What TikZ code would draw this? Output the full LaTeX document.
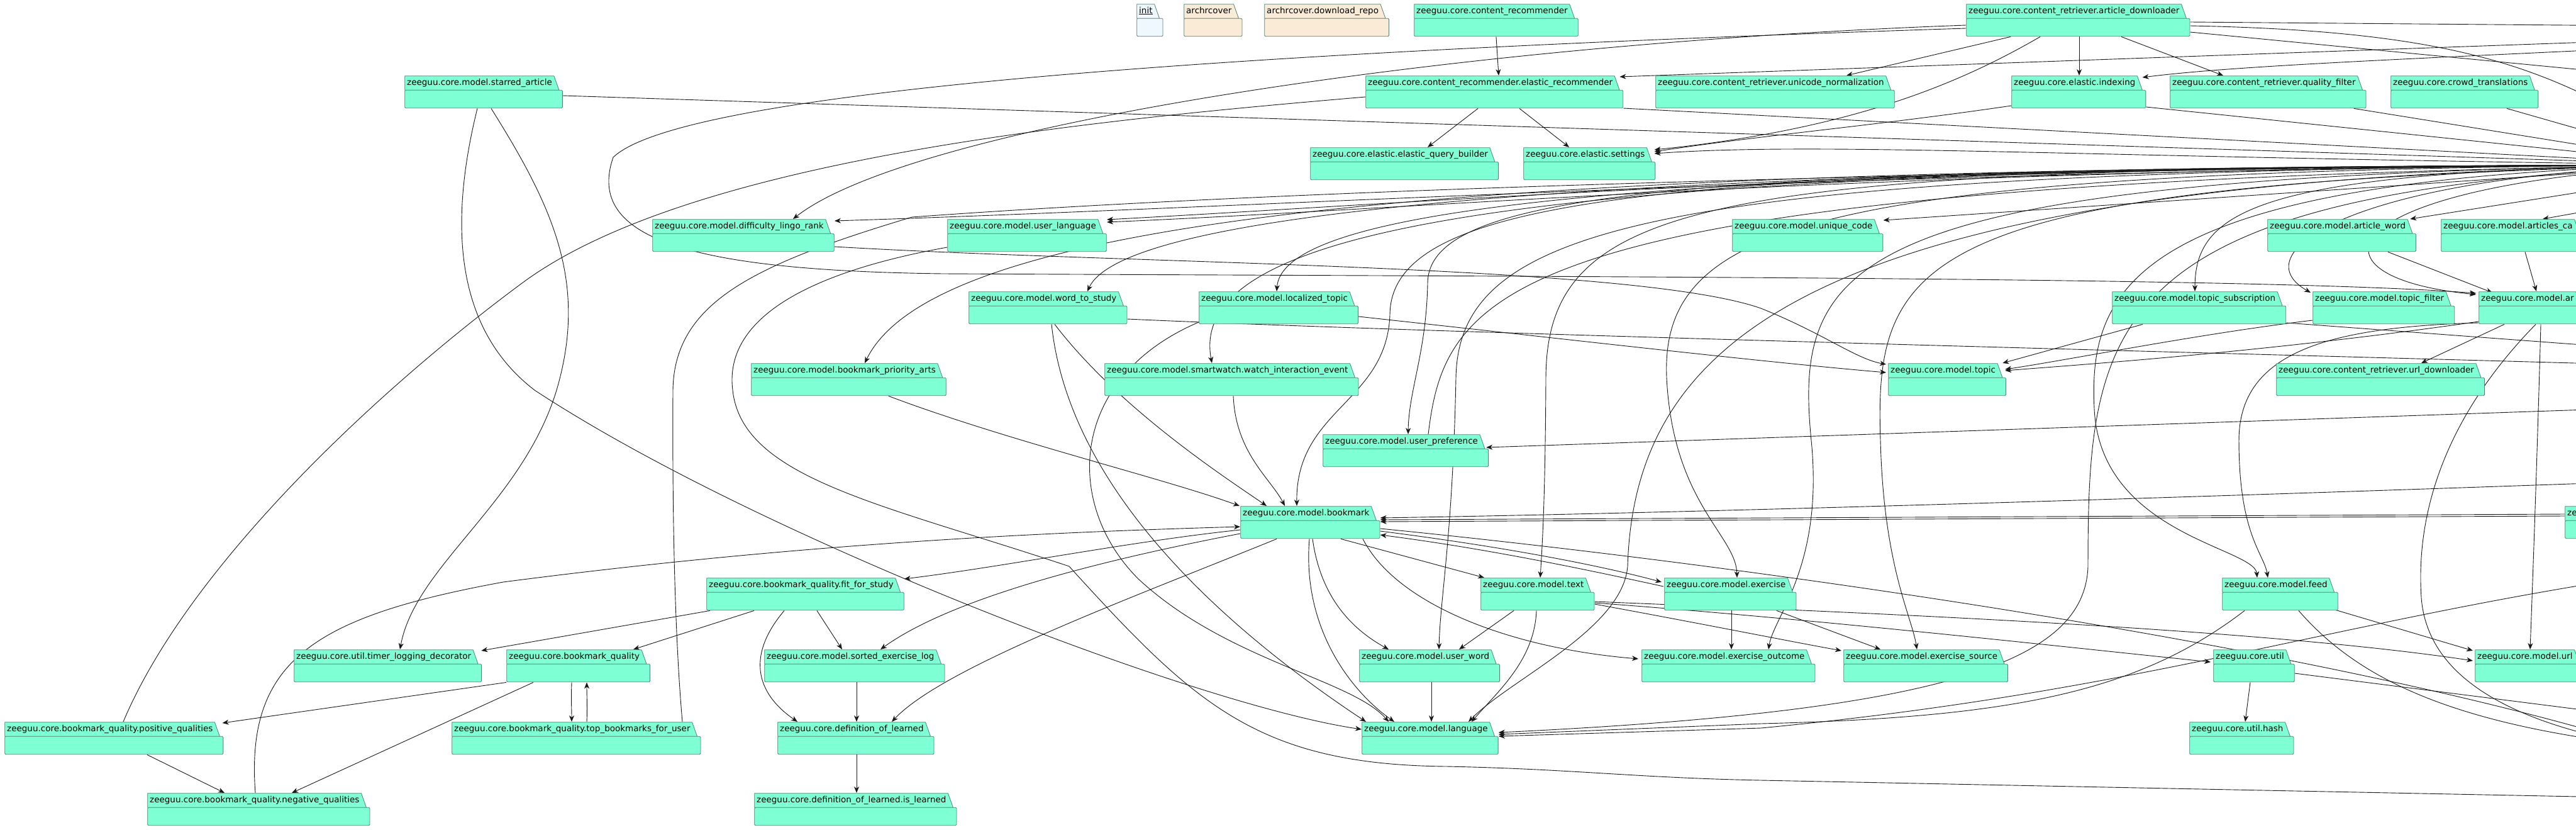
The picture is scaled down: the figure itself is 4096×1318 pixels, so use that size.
\documentclass[tikz,border=0pt]{standalone}
\usepackage{fontspec}
\newfontfamily\pkgfont{DejaVu Sans}
\usetikzlibrary{arrows.meta}
\definecolor{pkgteal}{RGB}{127,255,212}
\definecolor{pkgline}{RGB}{84,128,116}
\definecolor{pkgblue}{RGB}{240,248,255}
\definecolor{pkgsand}{RGB}{250,235,215}
\definecolor{edgecol}{RGB}{24,24,24}
\pgfdeclarelayer{paper}
\pgfdeclarelayer{edges}
\pgfsetlayers{paper,edges,main}

\begin{document}
\begin{tikzpicture}[x=1pt, y=-1pt,
  pkg/.style={anchor=north west, inner xsep=4pt, inner ysep=0pt, text height=15pt, text depth=37pt,
    font=\pkgfont\fontsize{13.5pt}{15pt}\selectfont, execute at end node={\hspace{13pt}},
    path picture={
      \filldraw[fill=#1, draw=pkgline, line width=0.8pt]
        ([shift={(0.5pt,-0.5pt)}]path picture bounding box.north west) -- ([shift={(-14pt,-0.5pt)}]path picture bounding box.north east)
        -- ([shift={(-6pt,-23pt)}]path picture bounding box.north east) -- ([shift={(0.5pt,-23pt)}]path picture bounding box.north west) -- cycle;
      \filldraw[fill=#1, draw=pkgline, line width=0.8pt, rounded corners=1.5pt]
        ([shift={(0.5pt,-23pt)}]path picture bounding box.north west) rectangle ([shift={(-0.5pt,0.5pt)}]path picture bounding box.south east);
    }},
  pkg/.default=pkgteal,
  arr/.style={-{Stealth[length=10pt, width=8pt, inset=3pt]}, line width=0.9pt, draw=edgecol},
  link/.style={line width=0.9pt, draw=edgecol}
]
\useasboundingbox (0,0) rectangle (4096,1318);
\begin{pgfonlayer}{paper}
\fill[white] (0,0) rectangle (4096,1318);
\end{pgfonlayer}
\clip (0,0) rectangle (4096,1318);

% packages, row by row
\node[pkg=pkgblue] (init) at (1807,6) {\underline{init}};
\node[pkg=pkgsand] (arc) at (1882,6) {archrcover};
\node[pkg=pkgsand] (arcdl) at (2010,6) {archrcover.download\_repo};
\node[pkg] (crec) at (2248,6) {zeeguu.core.content\_recommender};
\node[pkg] (adl) at (3126,6) {zeeguu.core.content\_retriever.article\_downloader};

\node[pkg] (star) at (643,120) {zeeguu.core.model.starred\_article};
\node[pkg] (erec) at (2171,120) {zeeguu.core.content\_recommender.elastic\_recommender};
\node[pkg] (uni) at (2632,120) {zeeguu.core.content\_retriever.unicode\_normalization};
\node[pkg] (idx) at (3198,120) {zeeguu.core.elastic.indexing};
\node[pkg] (qf) at (3450,120) {zeeguu.core.content\_retriever.quality\_filter};
\node[pkg] (crowd) at (3801,120) {zeeguu.core.crowd\_translations};

\node[pkg] (eqb) at (2083,234) {zeeguu.core.elastic.elastic\_query\_builder};
\node[pkg] (eset) at (2422,234) {zeeguu.core.elastic.settings};

\node[pkg] (dlr) at (1037,348) {zeeguu.core.model.difficulty\_lingo\_rank};
\node[pkg] (ulang) at (1506,348) {zeeguu.core.model.user\_language};
\node[pkg] (ucode) at (2754,348) {zeeguu.core.model.unique\_code};
\node[pkg] (aword) at (3605,348) {zeeguu.core.model.article\_word};
\node[pkg] (acache) at (3881,348) {zeeguu.core.model.articles\_ca};

\node[pkg] (wts) at (1540,463) {zeeguu.core.model.word\_to\_study};
\node[pkg] (ltopic) at (1906,463) {zeeguu.core.model.localized\_topic};
\node[pkg] (tsub) at (3358,463) {zeeguu.core.model.topic\_subscription};
\node[pkg] (tfil) at (3677,463) {zeeguu.core.model.topic\_filter};
\node[pkg] (art) at (3941,463) {zeeguu.core.model.ar};

\node[pkg] (bpa) at (1194,577) {zeeguu.core.model.bookmark\_priority\_arts};
\node[pkg] (swatch) at (1756,577) {zeeguu.core.model.smartwatch.watch\_interaction\_event};
\node[pkg] (topic) at (3002,577) {zeeguu.core.model.topic};
\node[pkg] (urld) at (3619,577) {zeeguu.core.content\_retriever.url\_downloader};

\node[pkg] (upref) at (2103,690) {zeeguu.core.model.user\_preference};

\node[pkg] (bm) at (1972,804) {zeeguu.core.model.bookmark};
\node[pkg] (zeo) at (4078,804) {ze};

\node[pkg] (ffs) at (1123,918) {zeeguu.core.bookmark\_quality.fit\_for\_study};
\node[pkg] (text) at (2354,918) {zeeguu.core.model.text};
\node[pkg] (exer) at (2646,918) {zeeguu.core.model.exercise};
\node[pkg] (feed) at (3533,918) {zeeguu.core.model.feed};

\node[pkg] (tld) at (467,1032) {zeeguu.core.util.timer\_logging\_decorator};
\node[pkg] (bq) at (805,1032) {zeeguu.core.bookmark\_quality};
\node[pkg] (sel) at (1215,1032) {zeeguu.core.model.sorted\_exercise\_log};
\node[pkg] (uword) at (2161,1032) {zeeguu.core.model.user\_word};
\node[pkg] (eout) at (2610,1032) {zeeguu.core.model.exercise\_outcome};
\node[pkg] (esrc) at (2931,1032) {zeeguu.core.model.exercise\_source};
\node[pkg] (util) at (3519,1032) {zeeguu.core.util};
\node[pkg] (url) at (3935,1032) {zeeguu.core.model.url};

\node[pkg] (posq) at (7,1147) {zeeguu.core.bookmark\_quality.positive\_qualities};
\node[pkg] (topb) at (718,1147) {zeeguu.core.bookmark\_quality.top\_bookmarks\_for\_user};
\node[pkg] (dol) at (1236,1147) {zeeguu.core.definition\_of\_learned};
\node[pkg] (lang) at (2165,1147) {zeeguu.core.model.language};
\node[pkg] (hash) at (3481,1147) {zeeguu.core.util.hash};

\node[pkg] (negq) at (234,1260) {zeeguu.core.bookmark\_quality.negative\_qualities};
\node[pkg] (isl) at (1199,1260) {zeeguu.core.definition\_of\_learned.is\_learned};

% free ends beyond the right border
\coordinate (hub) at (4300,262);
\coordinate (offin1) at (4200,64);
\coordinate (offin2) at (4200,76);
\coordinate (offin3) at (4200,290);
\coordinate (offin4) at (4200,320);
\coordinate (offin5) at (4200,648);
\coordinate (offin6) at (4200,765);
\coordinate (offin7) at (4200,915);
\coordinate (offout1) at (4200,41);
\coordinate (offout2) at (4200,120);
\coordinate (offout3) at (4200,555);
\coordinate (offout4) at (4200,580);
\coordinate (offout5) at (4200,1140);
\coordinate (offout6) at (4200,1185);
\coordinate (offout7) at (4200,1268);

\begin{pgfonlayer}{edges}
\clip (0,0) rectangle (4096,1318);
% top rows
\draw[arr] (crec.south) -- ([xshift=212pt]erec.north west);
\draw[arr] ([xshift=179pt]erec.south west) -- ([xshift=187pt]eqb.north west);
\draw[arr] ([xshift=245pt]erec.south west) -- ([xshift=73pt]eset.north west);
\draw[arr] (offin1) -- ([shift={(-6pt,-2pt)}]erec.north east);
\draw[arr] ([xshift=71pt]adl.south west) -- ([xshift=304pt]uni.north west);
\draw[arr] ([xshift=180pt]adl.south west) -- ([xshift=108pt]idx.north west);
\draw[arr] ([xshift=247pt]adl.south west) -- ([xshift=85pt]qf.north west);
\draw[arr] (offin2) .. controls (3800,95) and (3550,105) .. ([shift={(-6pt,-3pt)}]idx.north east);
\draw[arr] ([xshift=118pt]adl.south west) .. controls (3120,130) and (2950,205) .. ([shift={(-2pt,-4pt)}]eset.north east);
\draw[arr] ([yshift=-48pt]idx.north west) .. controls (2980,200) and (2800,215) .. ([shift={(-2pt,-7pt)}]eset.north east);
\draw[arr] (hub) .. controls (3300,250) and (2900,225) .. ([shift={(-2pt,-10pt)}]eset.north east);
\draw[link] ([yshift=-29pt]adl.north east) -- (offout1);
\draw[link] ([yshift=-45pt]adl.north east) -- (offout2);
\draw[link] ([yshift=-35pt]adl.north east) .. controls (3950,50) and (4080,120) .. (hub);
\draw[link] ([yshift=-32pt]star.north east) -- (hub);
\draw[arr] ([xshift=116pt]star.south west) .. controls (715,350) and (720,520) .. (850,620) .. controls (1200,850) and (1900,1120) .. ([yshift=-12pt]lang.north west);
\draw[arr] ([xshift=138pt]star.south west) .. controls (880,330) and (935,450) .. (885,620) .. controls (830,800) and (660,900) .. ([xshift=169pt]tld.north west);
\draw[arr] ([yshift=-34pt]adl.north west) .. controls (2300,70) and (1450,200) .. ([xshift=224pt]dlr.north west);
\draw[arr] ([yshift=-39pt]adl.north west) .. controls (2200,75) and (1100,130) .. (975,250) .. controls (930,380) and (1100,430) .. (1500,435) .. controls (2500,440) and (3600,440) .. ([shift={(-4pt,-3pt)}]art.north west);
\draw[link] ([yshift=-52pt]erec.north east) -- (hub);
\draw[link] ([yshift=-34pt]erec.north west) .. controls (1750,190) and (1100,250) .. (830,450) .. controls (600,620) and (300,900) .. ([xshift=189pt]posq.north west);
\draw[link] ([xshift=-20pt]qf.south east) -- (hub);
\draw[link] ([yshift=-50pt]idx.north east) -- (hub);
\draw[link] ([xshift=185pt]crowd.south west) -- (hub);
% from the model package on the right
\draw[arr] (hub) .. controls (3000,268) and (2000,330) .. ([yshift=-3pt]dlr.north east);
\draw[arr] (hub) .. controls (3000,262) and (2300,320) .. ([yshift=-1pt]ulang.north east);
\draw[arr] (hub) .. controls (3000,266) and (2300,330) .. ([yshift=-5pt]ulang.north east);
\draw[arr] (hub) -- ([yshift=-2pt]ucode.north east);
\draw[arr] (hub) .. controls (2600,265) and (1790,330) .. ([xshift=189pt]wts.north west);
\draw[arr] (hub) .. controls (2700,265) and (2040,320) .. ([xshift=124pt]ltopic.north west);
\draw[arr] (hub) .. controls (2500,265) and (1500,320) .. ([xshift=181pt]bpa.north west);
\draw[arr] (hub) .. controls (2600,265) and (1880,330) .. ([xshift=171pt]swatch.north west);
\draw[arr] (hub) .. controls (2700,265) and (2212,300) .. (2210,500) .. controls (2205,640) and (2060,650) .. ([xshift=90pt]bm.north west);
\draw[arr] (hub) .. controls (2700,265) and (2272,300) .. (2270,450) .. controls (2268,560) and (2240,620) .. ([xshift=136pt]upref.north west);
\draw[link] ([xshift=168pt]upref.north west) .. controls (2300,450) and (2400,290) .. (hub);
\draw[arr] (offin5) -- ([shift={(-4pt,-21pt)}]upref.north east);
\draw[arr] (hub) .. controls (2750,265) and (2460,300) .. (2458,600) .. controls (2457,800) and (2452,870) .. ([xshift=95pt]text.north west);
\draw[arr] (hub) .. controls (2900,270) and (2640,350) .. (2650,600) .. controls (2660,800) and (2760,850) .. ([xshift=116pt]exer.north west);
\draw[arr] (hub) .. controls (2650,270) and (2320,350) .. (2315,600) .. controls (2310,850) and (2290,950) .. ([xshift=127pt]uword.north west);
\draw[arr] (hub) .. controls (2950,280) and (2850,400) .. (2880,700) .. controls (2900,900) and (2820,980) .. ([xshift=202pt]eout.north west);
\draw[arr] (hub) .. controls (3050,290) and (2980,400) .. (2990,700) .. controls (2995,900) and (3040,980) .. ([xshift=117pt]esrc.north west);
\draw[arr] (hub) .. controls (3600,270) and (3490,330) .. ([xshift=132pt]tsub.north west);
\draw[arr] (hub) .. controls (3750,275) and (3560,400) .. ([shift={(-3pt,-2pt)}]tfil.north west);
\draw[arr] (hub) .. controls (3700,290) and (3650,440) .. ([shift={(-4pt,-5pt)}]art.north west);
\draw[arr] (hub) .. controls (3400,280) and (3320,450) .. (3330,650) .. controls (3340,850) and (3585,870) .. ([xshift=56pt]feed.north west);
\draw[arr] (hub) .. controls (2950,280) and (2600,500) .. (2588,900) .. controls (2580,1000) and (2400,1080) .. ([xshift=170pt]lang.north west);
\draw[arr] (hub) .. controls (3350,300) and (3320,500) .. (3320,900) .. controls (3315,1050) and (3100,1130) .. ([yshift=-17pt]lang.north east);
\draw[link] ([xshift=367pt]topb.north west) .. controls (1072,1000) and (1069,800) .. (1070,620) .. controls (1072,480) and (1200,420) .. (1450,345) .. controls (2200,290) and (3500,265) .. (hub);
% middle rows
\draw[arr] ([yshift=-44pt]dlr.north east) .. controls (1800,420) and (2600,420) .. (2800,490) .. controls (2900,530) and (2950,570) .. ([shift={(-3pt,-2pt)}]topic.north west);
\draw[link] ([yshift=-44pt]wts.north east) .. controls (2300,530) and (3500,560) .. (offout4);
\draw[arr] ([yshift=-40pt]ltopic.north east) .. controls (2500,540) and (2800,575) .. ([shift={(-3pt,-15pt)}]topic.north west);
\draw[arr] ([xshift=137pt]wts.south west) .. controls (1780,650) and (1950,760) .. ([xshift=42pt]bm.north west);
\draw[arr] ([xshift=132pt]wts.south west) .. controls (1700,780) and (1950,1000) .. ([xshift=7pt]lang.north west);
\draw[arr] ([yshift=-49pt]ltopic.north west) .. controls (1700,600) and (1690,800) .. (1810,920) .. controls (1950,1050) and (2150,1080) .. ([xshift=43pt]lang.north west);
\draw[arr] ([xshift=219pt]bpa.south west) .. controls (1600,700) and (1850,760) .. ([xshift=-1pt]bm.north west);
\draw[arr] ([xshift=205pt]swatch.south west) .. controls (1965,720) and (2020,760) .. ([xshift=71pt]bm.north west);
\draw[arr] ([xshift=172pt]negq.north west) .. controls (390,1050) and (500,980) .. (800,925) .. controls (1300,860) and (1700,845) .. ([yshift=-33pt]bm.north west);
\draw[link] ([yshift=-45pt]ulang.north west) .. controls (1300,430) and (1150,500) .. (1165,620) .. controls (1180,760) and (1400,800) .. (1700,900) .. controls (1900,1120) and (2000,1215) .. (2300,1218) .. controls (2500,1222) and (2600,1236) .. (2800,1240) -- (offout7);
% bookmark
\draw[arr] ([yshift=-38pt]bm.north west) .. controls (1800,860) and (1600,900) .. ([yshift=-2pt]ffs.north east);
\draw[arr] ([yshift=-44pt]bm.north west) .. controls (1700,900) and (1500,960) .. ([xshift=185pt]sel.north west);
\draw[arr] ([xshift=58pt]bm.south west) .. controls (1800,950) and (1500,1060) .. ([xshift=182pt]dol.north west);
\draw[arr] ([xshift=160pt]bm.south west) -- ([xshift=6pt]text.north west);
\draw[arr] ([yshift=-40pt]bm.north east) .. controls (2400,870) and (2550,900) .. ([shift={(-4pt,-7pt)}]exer.north west);
\draw[arr] ([shift={(-1pt,-14pt)}]exer.north west) .. controls (2500,900) and (2350,870) .. ([yshift=-46pt]bm.north east);
\draw[arr] ([xshift=115pt]bm.south west) .. controls (2100,950) and (2150,1000) .. ([xshift=47pt]uword.north west);
\draw[arr] ([xshift=110pt]bm.south west) .. controls (2070,1000) and (2150,1100) .. ([xshift=52pt]lang.north west);
\draw[arr] ([xshift=195pt]bm.south west) .. controls (2220,960) and (2400,1030) .. ([shift={(-5pt,-15pt)}]eout.north west);
\draw[link] ([yshift=-36pt]bm.north east) .. controls (2800,900) and (3700,1030) .. (offout6);
\draw[arr] ([yshift=-13pt]zeo.north west) -- ([yshift=-22pt]bm.north east);
\draw[arr] ([yshift=-16pt]zeo.north west) -- ([yshift=-25pt]bm.north east);
\draw[arr] (offin6) .. controls (3500,790) and (2700,815) .. ([yshift=-19pt]bm.north east);
% bookmark quality
\draw[arr] ([xshift=6pt]ffs.south west) -- ([shift={(-1pt,-2pt)}]tld.north east);
\draw[arr] ([xshift=76pt]ffs.south west) -- ([xshift=202pt]bq.north west);
\draw[arr] ([xshift=176pt]ffs.south west) -- ([xshift=124pt]sel.north west);
\draw[arr] ([xshift=124pt]ffs.south west) .. controls (1188,1040) and (1200,1100) .. ([xshift=32pt]dol.north west);
\draw[arr] (bq.south west) -- ([shift={(-2pt,-2pt)}]posq.north east);
\draw[arr] ([xshift=43pt]bq.south west) -- ([xshift=230pt]negq.north west);
\draw[arr] ([xshift=104pt]bq.south west) .. controls (908,1110) and (909,1130) .. ([xshift=191pt]topb.north west);
\draw[arr] ([xshift=215pt]topb.north west) .. controls (934,1125) and (933,1105) .. ([xshift=128pt]bq.south west);
\draw[arr] ([xshift=227pt]posq.south west) -- ([xshift=123pt]negq.north west);
\draw[arr] ([xshift=147pt]sel.south west) -- ([xshift=126pt]dol.north west);
\draw[arr] ([xshift=126pt]dol.south west) -- ([xshift=163pt]isl.north west);
% text, exercise, feed, util
\draw[arr] ([yshift=-42pt]text.north east) .. controls (2700,990) and (2850,1020) .. ([shift={(-3pt,-2pt)}]esrc.north west);
\draw[arr] ([yshift=-40pt]text.north east) .. controls (2900,985) and (3300,1030) .. ([shift={(-4pt,-20pt)}]util.north west);
\draw[arr] ([yshift=-38pt]text.north east) .. controls (3000,975) and (3600,1000) .. ([shift={(-3pt,-18pt)}]url.north west);
\draw[arr] ([xshift=53pt]text.south west) -- ([xshift=159pt]uword.north west);
\draw[arr] ([xshift=89pt]text.south west) .. controls (2440,1050) and (2380,1100) .. ([xshift=175pt]lang.north west);
\draw[arr] ([xshift=179pt]exer.south west) -- ([xshift=59pt]esrc.north west);
\draw[arr] ([xshift=107pt]exer.south west) -- ([xshift=143pt]eout.north west);
\draw[arr] ([xshift=36pt]feed.south west) .. controls (3400,1100) and (3200,1140) .. (2800,1150) -- ([yshift=-20pt]lang.north east);
\draw[arr] (offin7) .. controls (3700,990) and (3400,1100) .. (2800,1157) -- ([yshift=-23pt]lang.north east);
\draw[arr] ([shift={(-4pt,1pt)}]feed.south east) -- ([shift={(-3pt,-2pt)}]url.north west);
\draw[link] ([xshift=122pt]feed.south west) .. controls (3750,1080) and (3900,1150) .. (offout6);
\draw[arr] ([xshift=59pt]util.south west) -- ([xshift=89pt]hash.north west);
\draw[link] ([yshift=-38pt]util.north east) -- (offout5);
\draw[arr] ([xshift=115pt]uword.south west) -- ([xshift=111pt]lang.north west);
% topics and articles
\draw[arr] ([xshift=49pt]tsub.south west) -- ([shift={(-6pt,0pt)}]topic.north east);
\draw[arr] ([yshift=-46pt]tfil.north west) .. controls (3500,530) and (3300,570) .. ([shift={(-2pt,-10pt)}]topic.north east);
\draw[arr] ([yshift=-48pt]art.north west) .. controls (3600,560) and (3300,580) .. ([shift={(-2pt,-12pt)}]topic.north east);
\draw[link] ([yshift=-50pt]tsub.north east) -- (offout3);
\draw[arr] ([xshift=192pt]aword.south west) -- ([shift={(22pt,-2pt)}]art.north west);
\draw[arr] ([xshift=134pt]acache.south west) -- ([xshift=92pt]art.north west);
\draw[arr] (offin3) -- ([shift={(-10pt,0pt)}]aword.north east);
\draw[arr] (offin4) -- ([xshift=162pt]acache.north west);
\draw[arr] ([xshift=41pt]art.south west) -- ([xshift=231pt]urld.north west);
\draw[arr] ([xshift=99pt]art.south west) .. controls (4035,700) and (4028,900) .. ([xshift=88pt]url.north west);
\draw[arr] ([yshift=-50pt]art.north west) .. controls (3700,520) and (3560,560) .. (3560,700) .. controls (3560,850) and (3600,880) .. ([xshift=73pt]feed.north west);
\draw[link] ([xshift=91pt]art.south west) .. controls (3900,650) and (3840,800) .. (3850,950) .. controls (3860,1080) and (4000,1150) .. (offout6);
\end{pgfonlayer}
\end{tikzpicture}
\end{document}
